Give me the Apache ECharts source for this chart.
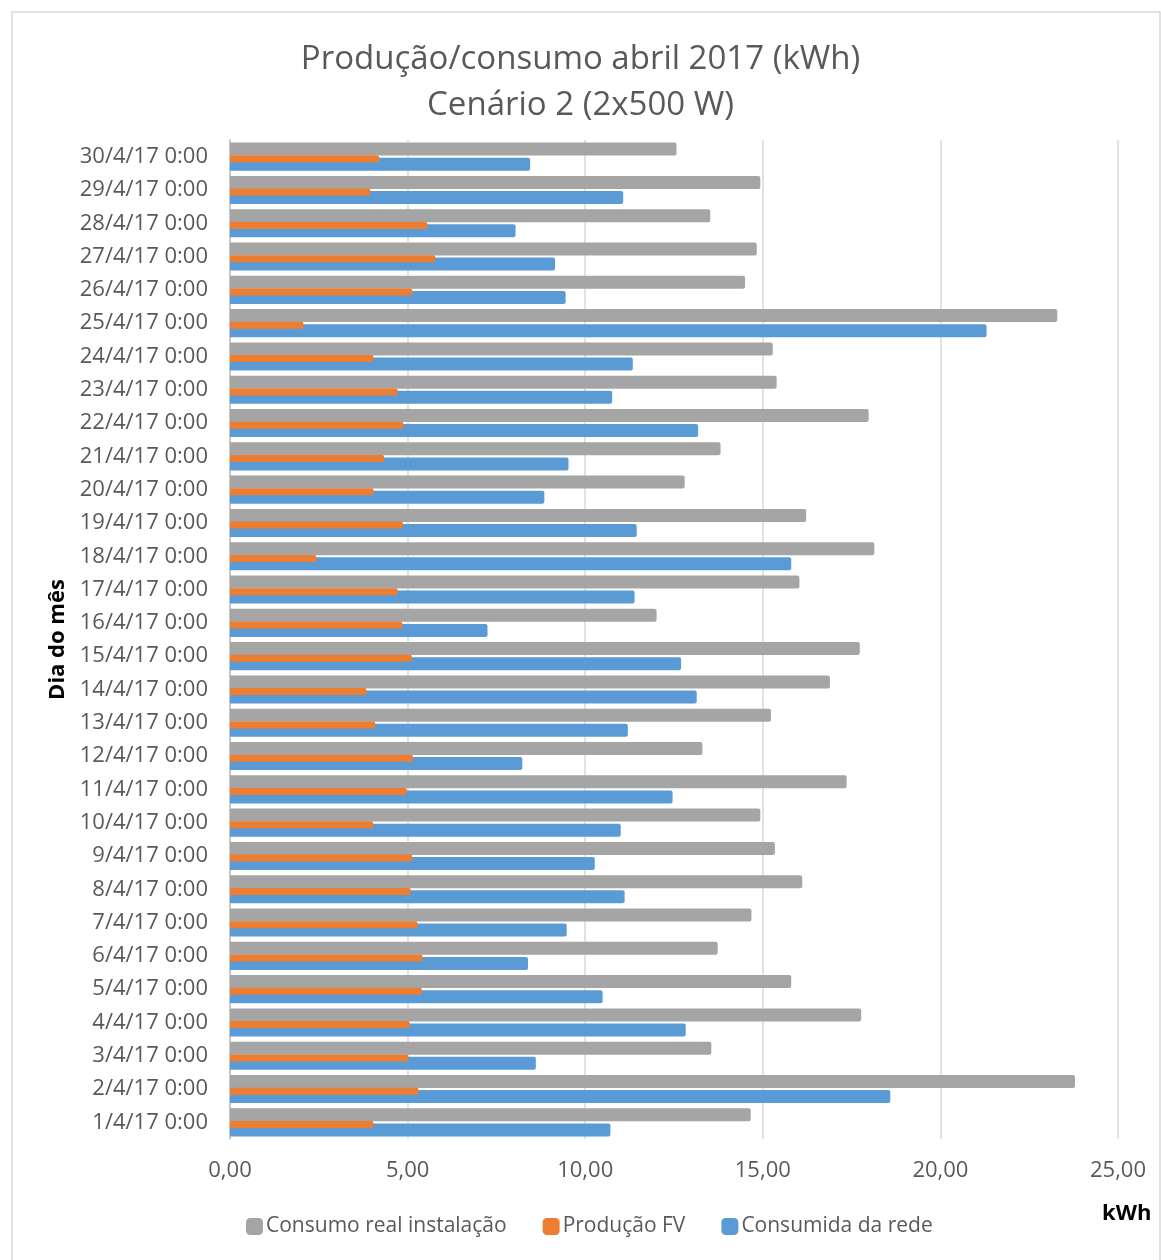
<!DOCTYPE html>
<html>
<head>
<meta charset="utf-8">
<script src="https://cdn.jsdelivr.net/npm/echarts@6/dist/echarts.min.js"></script>
<style>
  html, body { margin: 0; padding: 0; background: #fff; }
  #main { width: 1161px; height: 1260px; }
</style>
</head>
<body>
<div id="main"></div>
<script>
  // dados (1/4 a 30/4)
  const dias = [
    '1/4/17 0:00', '2/4/17 0:00', '3/4/17 0:00', '4/4/17 0:00', '5/4/17 0:00',
    '6/4/17 0:00', '7/4/17 0:00', '8/4/17 0:00', '9/4/17 0:00', '10/4/17 0:00',
    '11/4/17 0:00', '12/4/17 0:00', '13/4/17 0:00', '14/4/17 0:00', '15/4/17 0:00',
    '16/4/17 0:00', '17/4/17 0:00', '18/4/17 0:00', '19/4/17 0:00', '20/4/17 0:00',
    '21/4/17 0:00', '22/4/17 0:00', '23/4/17 0:00', '24/4/17 0:00', '25/4/17 0:00',
    '26/4/17 0:00', '27/4/17 0:00', '28/4/17 0:00', '29/4/17 0:00', '30/4/17 0:00'
  ]
  const consumoReal = [
    14.66, 23.79, 13.55, 17.77, 15.80, 13.73, 14.68, 16.11, 15.34, 14.93,
    17.36, 13.30, 15.23, 16.89, 17.73, 12.01, 16.03, 18.14, 16.22, 12.80,
    13.81, 17.98, 15.39, 15.28, 23.29, 14.50, 14.83, 13.52, 14.93, 12.57
  ]
  const producaoFV = [
    4.04, 5.31, 5.02, 5.06, 5.40, 5.42, 5.28, 5.09, 5.13, 4.03,
    4.98, 5.15, 4.09, 3.84, 5.12, 4.85, 4.72, 2.43, 4.87, 4.04,
    4.34, 4.88, 4.72, 4.04, 2.07, 5.13, 5.78, 5.56, 3.95, 4.20
  ]
  const consumidaRede = [
    10.71, 18.59, 8.61, 12.83, 10.49, 8.39, 9.48, 11.11, 10.27, 11.00,
    12.46, 8.23, 11.20, 13.14, 12.70, 7.25, 11.39, 15.80, 11.45, 8.85,
    9.53, 13.18, 10.76, 11.34, 21.30, 9.45, 9.15, 8.04, 11.07, 8.45
  ]

  const fonte = '"Open Sans", Lato, sans-serif'
  const cinzaTexto = '#595959'

  const myChart = echarts.init(document.getElementById('main'))
  myChart.setOption({
    animation: false,
    backgroundColor: '#fff',
    title: {
      text: 'Produção/consumo abril 2017 (kWh)\nCenário 2 (2x500 W)',
      left: 'center',
      top: 32,
      textStyle: {
        fontFamily: fonte,
        fontSize: 33,
        fontWeight: 'normal',
        color: cinzaTexto,
        lineHeight: 46
      }
    },
    legend: {
      data: ['Consumo real instalação', 'Produção FV', 'Consumida da rede'],
      left: 241,
      top: 1211,
      itemWidth: 17,
      itemHeight: 17,
      itemGap: 36,
      icon: 'roundRect',
      textStyle: { fontFamily: fonte, fontSize: 21, color: cinzaTexto, padding: [0, 0, 0, -2] }
    },
    grid: { left: 230, right: 43, top: 140, bottom: 121 },
    xAxis: {
      type: 'value',
      min: 0,
      max: 25,
      interval: 5,
      axisLine: { show: false },
      axisTick: { show: false },
      splitLine: { lineStyle: { color: '#d9d9d9', width: 1.5 } },
      axisLabel: {
        margin: 21,
        fontFamily: fonte,
        fontSize: 22,
        color: cinzaTexto,
        formatter: (v) => v.toFixed(2).replace('.', ',')
      }
    },
    yAxis: [
      {
        type: 'category',
        data: dias,
        name: 'Dia do mês',
        nameLocation: 'middle',
        nameGap: 161,
        nameTextStyle: { fontFamily: fonte, fontSize: 22, fontWeight: 'bold', color: '#000' },
        axisLine: { lineStyle: { color: '#bfbfbf', width: 1.5 } },
        axisTick: { length: 7, lineStyle: { color: '#bfbfbf', width: 1.5 } },
        axisLabel: { margin: 22, fontFamily: fonte, fontSize: 22, color: cinzaTexto }
      },
      {
        type: 'category',
        data: dias,
        show: false
      }
    ],
    graphic: [
      {
        type: 'rect',
        silent: true,
        shape: { x: 12, y: 12, width: 1148, height: 1260 },
        style: { fill: 'none', stroke: '#d9d9d9', lineWidth: 1.5 }
      },
      {
        type: 'text',
        left: 1102,
        top: 1203,
        style: { text: 'kWh', fontFamily: fonte, fontSize: 22, fontWeight: 'bold', fill: '#000' }
      }
    ],
    series: [
      {
        name: 'Consumo real instalação',
        type: 'bar',
        yAxisIndex: 0,
        data: consumoReal,
        barWidth: 13,
        itemStyle: { color: '#a5a5a5', borderRadius: [0, 2, 2, 0] }
      },
      {
        name: 'Consumida da rede',
        type: 'bar',
        yAxisIndex: 0,
        data: consumidaRede,
        barWidth: 13,
        barGap: '16%',
        itemStyle: { color: '#5b9bd5', borderRadius: [0, 2, 2, 0] }
      },
      {
        // espaçador invisível só para deslocar a barra laranja
        type: 'bar',
        yAxisIndex: 1,
        data: dias.map(() => 0),
        barWidth: 4.3,
        silent: true,
        itemStyle: { color: 'rgba(0,0,0,0)' }
      },
      {
        name: 'Produção FV',
        type: 'bar',
        yAxisIndex: 1,
        data: producaoFV,
        barWidth: 7,
        barGap: 0,
        z: 5,
        itemStyle: { color: '#ed7d31', borderRadius: [0, 2, 2, 0] }
      }
    ]
  })
</script>
</body>
</html>
